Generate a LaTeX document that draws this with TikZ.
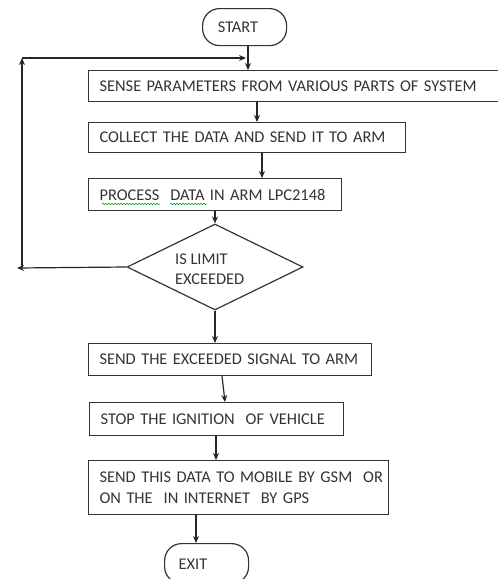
\documentclass[tikz,border=0pt]{standalone}
\usepackage{fontspec}
\setmainfont{Carlito}
\usetikzlibrary{shapes.geometric,arrows.meta,decorations.pathmorphing}
\begin{document}
\begin{tikzpicture}[x=1pt,y=-1pt,
  every node/.style={font=\fontsize{16.4}{20.5}\selectfont, text=black!80},
  box/.style={draw=black!80, line width=1.2pt, anchor=north west, align=left, inner xsep=11pt, inner ysep=0pt},
  term/.style={draw=black!80, line width=1.2pt, rounded corners=17pt, anchor=north west, inner sep=0pt},
  arr/.style={-{Stealth[length=7pt,width=6pt]}, line width=1.2pt, draw=black!85},
  wavy/.style={draw=green!60!black, line width=0.5pt, decorate, decoration={snake, amplitude=0.8pt, segment length=3pt}}
]
\useasboundingbox (0,0) rectangle (498,579);
\node[term, minimum width=84pt, minimum height=37pt] (start) at (202,8) {};
\node (starttxt) at (238,27) {START};
\node[box, text width=388pt, minimum height=31pt] (sense) at (88,70) {\mbox{SENSE PARAMETERS FROM VARIOUS PARTS OF SYSTEM}};
\node[box, text width=295pt, minimum height=30pt] (collect) at (88,122) {\mbox{COLLECT THE DATA AND SEND IT TO ARM}};
\node[box, text width=231pt, minimum height=32pt] (process) at (88,178) {\mbox{PROCESS\ \ DATA IN ARM LPC2148}};
\node[draw=black!80, diamond, line width=1.2pt, minimum width=176pt, minimum height=86pt, inner sep=0pt] (dia) at (215,267) {};
\node[align=left, anchor=west, inner sep=0pt] (diatxt) at (175,269) {IS LIMIT\\EXCEEDED};
\node[box, text width=261pt, minimum height=32pt] (send) at (88,343) {\mbox{SEND THE EXCEEDED SIGNAL TO ARM}};
\node[box, text width=232pt, minimum height=33pt] (stop) at (89,402) {\mbox{STOP THE IGNITION\ \ OF VEHICLE}};
\node[box, text width=278pt, minimum height=54pt] (mobile) at (88,460) {\mbox{SEND THIS DATA TO MOBILE BY GSM\ \ OR}\\\mbox{ON THE\ \ IN INTERNET\ \ BY GPS}};
\node[term, minimum width=84pt, minimum height=40pt] (exit) at (164,543) {};
\node (exittxt) at (193,564) {EXIT};
% spell-check underline
\draw[wavy] (102,204) -- (160,204);
\draw[wavy] (170,204) -- (207,204);
% connectors
\draw[arr] (start.south -| 248,0) -- (sense.north -| 248,0);
\draw[arr] (sense.south -| 257,0) -- (collect.north -| 257,0);
\draw[arr] (collect.south -| 262,0) -- (process.north -| 262,0);
\draw[arr] (process.south -| dia.north) -- (dia.north);
\draw[arr] (dia.south) -- (send.north -| dia.south);
\draw[arr] (send.south -| 222,0) -- (stop.north -| 225,0);
\draw[arr] (stop.south -| 216,0) -- (mobile.north -| 216,0);
\draw[arr] (mobile.south -| 196,0) -- (exit.north -| 196,0);
% feedback loop
\coordinate (lend) at (17,268);
\coordinate (lbot) at (22,268);
\coordinate (ltop) at (22,58);
\coordinate (rend) at (246,58);
\draw[arr] (dia.west) -- (lend);
\draw[arr] (lbot) -- (ltop);
\draw[arr] (ltop) -- (rend);
\end{tikzpicture}
\end{document}
